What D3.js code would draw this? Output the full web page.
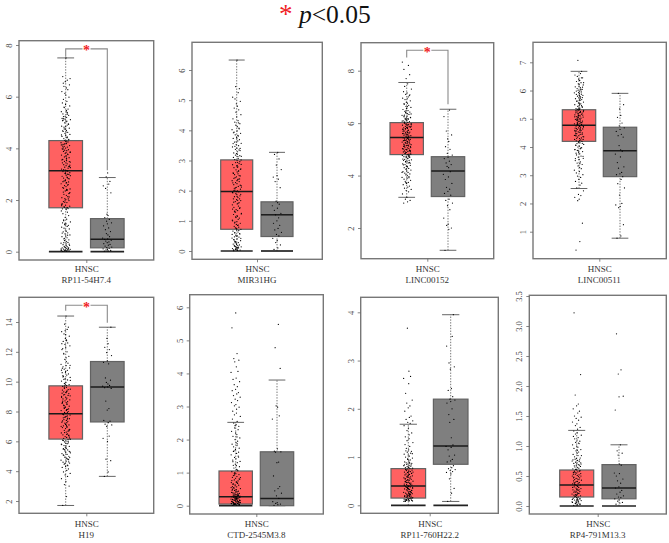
<!DOCTYPE html>
<html><head><meta charset="utf-8">
<script src="https://cdn.jsdelivr.net/npm/d3@7"></script>
<style>html,body{margin:0;padding:0;background:#fff}svg{display:block}</style>
</head><body><svg id="c" width="669" height="543"></svg>
<script>
const cancer = "HNSC";
const genes = ["RP11-54H7.4","MIR31HG","LINC00152","LINC00511","H19","CTD-2545M3.8","RP11-760H22.2","RP4-791M13.3"];
// [low whisker, q1, median, q3, high whisker]
const tumorStats = [[0,1.7,3.13,4.3,7.5],[0,.72,1.97,3.02,6.33],[3.17,4.8,5.45,6.02,7.55],[2.53,4.2,4.77,5.32,6.68],[1.7,6.15,7.85,9.72,14.4],[0,.05,.27,1.05,2.52],[0,.15,.4,.76,1.68],[0,.15,.35,.6,1.26]];
const normalStats = [[0,.15,.48,1.28,2.87],[0,.48,1.2,1.63,3.27],[1.15,3.2,4.17,4.72,6.53],[.77,2.95,3.87,4.7,5.9],[3.65,7.3,9.65,11.35,13.65],[0,0,.22,1.63,3.8],[.08,.85,1.23,2.2,3.95],[0,.12,.3,.69,1.02]];
const yTicks = [[0,2,4,6,8],[0,1,2,3,4,5,6],[2,4,6,8],[1,2,3,4,5,6,7],[2,4,6,8,10,12,14],[0,1,2,3,4,5,6],[0,1,2,3,4],[0,.5,1,1.5,2,2.5,3,3.5]];
const tickFormats = [".0f",".0f",".0f",".0f",".0f",".0f",".0f",".1f"];
// [bracket level, left end, right end]; null where no star is shown
const brackets = [[7.85,7.55,3.15],null,[8.78,8.5,6.72],null,[15.12,14.75,13.95],null,null,null];
const zeroBars = [[1,1],[1,1],[0,0],[0,0],[0,0],[1,0],[1,1],[1,1]];

const t1 = [.01,.02,.03,.04,.05,.06,.07,.08,.09,.1,.12,.13,.15,.17,.19,.21,.24,.27,.3,.33,.36,.39,.43,.46,.5,.54,.58,.61,.65,.69,.73,.77,.8,.84,.88,.91,.95,.98,1.02,1.05,1.08,1.12,1.15,1.2,1.26,1.33,1.4,1.47,1.53,1.58,1.63,1.67,1.72,1.76,1.8,1.85,1.9,1.94,1.98,2.02,2.05,2.09,2.13,2.18,2.22,2.27,2.31,2.35,2.39,2.43,2.48,2.52,2.56,2.6,2.63,2.67,2.7,2.74,2.78,2.82,2.85,2.89,2.92,2.96,3,3.03,3.06,3.1,3.13,3.16,3.2,3.23,3.27,3.3,3.33,3.37,3.4,3.44,3.47,3.5,3.54,3.57,3.6,3.64,3.67,3.7,3.74,3.78,3.81,3.84,3.88,3.91,3.95,3.98,4.01,4.05,4.08,4.11,4.15,4.18,4.22,4.25,4.28,4.31,4.35,4.38,4.42,4.46,4.5,4.54,4.58,4.62,4.66,4.7,4.74,4.78,4.82,4.86,4.9,4.95,4.99,5.03,5.07,5.11,5.15,5.2,5.24,5.28,5.33,5.37,5.42,5.47,5.52,5.58,5.64,5.7,5.76,5.82,5.9,5.98,6.06,6.13,6.2,6.27,6.34,6.4,6.46,6.52,6.58,6.64,6.7,6.78,7.5];
const t1b = [4.17,2.83,.11,3.52,4.93,1.74,3.08,.29,2.46,4.41,5.16,3.71,.64,1.97,3.35,2.71,5.05,4.27,1.84,.08,3.93,2.25,4.63,3.18,5.31,1.66,2.94,.44,3.62,4.09,5.45,2.12,.18,3.44,4.52,2.58,1.04,3.86,5.23,2.37,4.33,.72,3.02,1.71,4.75,3.29,5.09,2.66,.06,3.76,4.2,1.91,2.99,.35,5.38,3.55,4.84,2.29,1.1,3.12,4.02,.23,2.75,3.49,5.6,1.78,4.44,2.04,.52,3.83,4.68,3.25,1.23,2.41,5.13,.15,3.97,2.87,4.13,1.69];
const n1 = [.02,.03,.05,.07,.09,.11,.13,.16,.18,.22,.25,.28,.31,.35,.38,.41,.44,.48,.5,.53,.58,.65,.7,.78,.85,.92,1,1.08,1.12,1.18,1.25,1.32,1.4,1.45,2.28,2.45,2.55,2.62,2.72,2.9,3.05];
const t2 = [.01,.02,.03,.05,.06,.08,.1,.12,.14,.16,.18,.2,.23,.26,.28,.31,.34,.37,.4,.43,.46,.5,.53,.56,.6,.63,.66,.7,.72,.76,.79,.82,.85,.88,.92,.96,1,1.05,1.09,1.13,1.17,1.21,1.25,1.3,1.34,1.37,1.41,1.45,1.49,1.53,1.56,1.6,1.64,1.67,1.7,1.73,1.77,1.8,1.83,1.87,1.9,1.93,1.96,1.99,2.02,2.05,2.08,2.11,2.14,2.17,2.2,2.23,2.27,2.3,2.33,2.36,2.39,2.43,2.46,2.49,2.53,2.56,2.59,2.62,2.66,2.69,2.72,2.76,2.79,2.82,2.86,2.9,2.93,2.96,3,3.03,3.07,3.1,3.14,3.18,3.21,3.25,3.29,3.33,3.37,3.41,3.45,3.49,3.53,3.57,3.61,3.65,3.69,3.73,3.77,3.81,3.85,3.9,3.94,3.98,4.02,4.07,4.12,4.17,4.22,4.27,4.32,4.38,4.45,4.52,4.6,4.68,4.74,4.8,4.88,4.96,5.04,5.1,5.25,5.38,5.45,6.33];
const t2b = [.04,2.12,.33,1.68,3.62,.58,2.41,.13,1.02,2.84,3.35,.77,1.88,.22,2.57,3.13,.47,1.44,3.74,.09,2.26,.68,1.15,3.47,2.71,.19,1.97,.86,3.02,.38,2.33,1.29,4.05,.55,2.94,1.73,.27,3.23,2.18,.93,1.58,3.56,.07,2.65,1.11,.42,2.01,3.83,.74,1.39,2.5,.15,3.16,1.81,.61,2.38,3.92,1.23,.3,2.78,1.62,.11,3.4,2.09,.97,1.94,4.25,.5,2.87,1.32];
const n2 = [.05,.1,.2,.28,.35,.42,.5,.55,.62,.7,.75,.85,.92,1,1.1,1.2,1.25,1.35,1.42,1.5,1.55,1.6,1.65,2.1,2.3,2.38,2.45,2.5,2.7,2.85,3.05,3.2,3.27];
const t3 = [2.95,3,3.05,3.1,3.17,3.3,3.38,3.43,3.47,3.52,3.56,3.6,3.65,3.7,3.74,3.78,3.82,3.86,3.9,3.93,3.96,4,4.03,4.06,4.09,4.12,4.15,4.18,4.21,4.24,4.27,4.3,4.33,4.36,4.39,4.42,4.45,4.48,4.5,4.52,4.55,4.58,4.6,4.62,4.65,4.68,4.7,4.72,4.74,4.77,4.8,4.82,4.84,4.86,4.88,4.9,4.92,4.94,4.96,4.98,5,5.02,5.04,5.06,5.08,5.1,5.12,5.14,5.16,5.18,5.2,5.22,5.24,5.26,5.28,5.3,5.32,5.34,5.36,5.38,5.4,5.42,5.44,5.46,5.48,5.5,5.52,5.54,5.56,5.58,5.6,5.62,5.64,5.66,5.68,5.7,5.72,5.74,5.76,5.78,5.8,5.82,5.84,5.86,5.88,5.9,5.92,5.94,5.96,5.98,6,6.03,6.06,6.09,6.12,6.15,6.18,6.21,6.24,6.27,6.3,6.33,6.36,6.39,6.42,6.45,6.48,6.52,6.56,6.6,6.64,6.68,6.72,6.76,6.8,6.85,6.9,6.95,7,7.05,7.1,7.15,7.2,7.3,7.4,7.5,7.7,7.85,8.05,8.2,8.33];
const t3b = [5.41,4.77,6.13,5.07,5.83,4.41,5.63,6.02,4.95,5.29,6.47,4.63,5.51,5.93,4.84,6.22,5.17,4.26,5.73,6.35,5.01,5.47,4.54,5.87,6.08,5.25,4.71,5.59,6.55,4.92,5.35,6.17,5.69,4.35,5.13,5.97,4.81,6.27,5.43,4.99,5.77,4.58,6.41,5.21,5.55,6.05,4.67,5.33,5.89,4.89,6.63,5.11,5.65,4.47,5.79,6.11,5.03,5.37,4.73,5.95,6.31,5.45,4.97,5.61,6.2,4.79,5.27,5.85,6.74,5.15,4.12,3.92,6.93,3.73,7.08];
const n3 = [1.15,1.95,2,2.1,2.15,2.38,2.7,2.85,2.95,3.05,3.1,3.25,3.32,3.4,3.48,3.55,3.7,3.85,3.95,4.05,4.15,4.3,4.35,4.42,4.48,4.55,4.65,4.7,4.78,4.85,5,5.1,5.3,5.4,5.55,5.7,6.25,6.5];
const t4 = [.35,.65,1.3,2.1,2.15,2.22,2.28,2.32,2.45,2.55,2.65,2.72,2.78,2.85,2.92,2.97,3.02,3.08,3.13,3.18,3.23,3.28,3.33,3.38,3.43,3.47,3.52,3.56,3.6,3.64,3.68,3.72,3.76,3.8,3.84,3.88,3.91,3.94,3.97,4,4.03,4.06,4.09,4.12,4.15,4.17,4.2,4.22,4.25,4.27,4.3,4.32,4.35,4.37,4.4,4.42,4.45,4.47,4.5,4.52,4.54,4.56,4.58,4.6,4.62,4.64,4.66,4.68,4.7,4.72,4.74,4.76,4.78,4.8,4.82,4.84,4.86,4.88,4.9,4.92,4.94,4.96,4.98,5,5.02,5.04,5.06,5.08,5.1,5.12,5.14,5.16,5.18,5.2,5.22,5.24,5.26,5.28,5.3,5.32,5.34,5.36,5.38,5.41,5.44,5.47,5.5,5.53,5.56,5.59,5.62,5.65,5.68,5.71,5.74,5.77,5.8,5.83,5.86,5.89,5.92,5.95,5.98,6.01,6.04,6.07,6.1,6.13,6.16,6.2,6.24,6.28,6.32,6.36,6.4,6.45,6.5,6.55,6.6,6.68,7.07];
const t4b = [4.73,5.21,4.36,5.63,4.91,3.86,5.43,4.57,6.05,5.07,4.23,5.87,4.81,3.67,5.29,4.49,5.71,4.99,4.13,6.22,5.35,4.67,3.98,5.55,4.85,5.13,4.31,5.93,4.61,5.25,3.78,6.36,4.95,5.47,4.41,5.79,4.77,5.03,4.19,6.12,5.31,4.53,3.59,5.67,4.87,5.17,4.27,5.98,4.65,5.39,3.91,6.45,5.09,4.45,5.83,4.79,5.23,4.07,6.28,4.97,5.51,4.39,3.41,5.75,4.83,5.33,4.59,6.02,5.11,4.71];
const n4 = [.77,.85,1.25,1.85,1.9,1.95,2,2.3,2.55,2.7,2.85,2.95,3.02,3.05,3.1,3.25,3.3,3.45,3.65,3.75,3.85,3.9,4.05,4.35,4.4,4.45,4.55,4.62,4.68,4.75,4.85,5.05,5.12,5.35,5.5,5.9];
const t5 = [1.7,2.3,3,3.1,3.3,3.5,3.65,3.75,3.85,3.95,4.05,4.15,4.25,4.32,4.4,4.47,4.54,4.6,4.67,4.74,4.8,4.87,4.94,5,5.06,5.12,5.18,5.24,5.3,5.36,5.42,5.48,5.54,5.6,5.66,5.72,5.78,5.84,5.9,5.96,6.02,6.08,6.14,6.2,6.26,6.32,6.38,6.44,6.5,6.56,6.62,6.68,6.74,6.8,6.86,6.92,6.98,7.04,7.1,7.16,7.22,7.28,7.34,7.4,7.46,7.52,7.58,7.64,7.7,7.76,7.82,7.88,7.94,8,8.06,8.12,8.18,8.24,8.3,8.36,8.42,8.48,8.54,8.6,8.66,8.72,8.78,8.84,8.9,8.96,9.02,9.08,9.14,9.2,9.26,9.32,9.38,9.44,9.5,9.56,9.62,9.68,9.74,9.8,9.88,9.96,10.04,10.12,10.2,10.28,10.36,10.44,10.52,10.6,10.68,10.76,10.84,10.92,11,11.08,11.16,11.24,11.35,11.5,11.7,11.85,12,12.15,12.3,12.4,12.5,12.6,12.7,12.8,12.9,13.05,13.2,13.35,13.5,13.65,13.85,14.4];
const t5b = [7.37,5.23,9.11,6.47,8.29,4.63,10.41,7.93,5.81,8.83,6.11,9.59,4.91,7.13,10.9,8.51,5.51,6.77,9.29,7.61,12.55,4.37,8.07,10.15,6.29,5.09,9.83,7.49,11.1,8.69,5.69,6.59,9.47,7.01,12.75,4.77,8.39,10.63,5.33,7.79,6.95,9.23,11.6,8.15,4.52,6.17,10.32,7.25,13.15,8.95,5.99,9.71,6.41,7.67,11.9,4.83,8.61,10.08,5.45,7.07,12.22,9.35,6.71,8.21,5.87,10.77,7.55,13.42,9.05,6.05];
const n5 = [3.65,3.95,4.7,4.8,6,6.2,6.35,7,7.1,7.15,7.25,7.35,7.4,8.1,8.2,8.7,9.55,9.6,9.65,9.7,9.75,9.85,9.95,10.1,10.25,11.2,11.3,11.4,11.75,11.95,12.15,12.3,12.55,12.9,13.65];
const t6 = [.01,.02,.03,.04,.05,.06,.07,.08,.09,.1,.11,.12,.13,.14,.15,.16,.17,.18,.19,.2,.21,.22,.23,.24,.25,.26,.27,.28,.29,.3,.31,.32,.33,.35,.37,.38,.4,.42,.44,.46,.48,.5,.52,.55,.57,.6,.62,.65,.68,.7,.72,.75,.78,.8,.83,.86,.88,.91,.94,.97,1,1.03,1.06,1.1,1.14,1.18,1.22,1.26,1.3,1.34,1.38,1.42,1.46,1.5,1.54,1.58,1.62,1.66,1.7,1.74,1.78,1.82,1.86,1.9,1.95,2,2.05,2.1,2.15,2.2,2.25,2.3,2.35,2.4,2.45,2.5,2.55,2.62,2.7,2.75,2.8,2.86,2.92,2.98,3.02,3.06,3.12,3.18,3.22,3.28,3.33,3.38,3.42,3.48,3.52,3.6,3.66,3.75,3.82,3.86,4.03,4.06,4.2,4.35,4.4,4.45,4.6,5.38,5.83];
const t6b = [.16,.04,.36,.09,.71,.24,.02,.53,.13,1.08,.31,.06,.44,.19,.85,.03,.27,.63,.11,1.33,.21,.07,.49,.34,.98,.15,.05,.58,.26,1.64,.08,.41,.18,.76,.12,1.21,.29,.03,.66,.23,1.87,.1,.39,.14,.93,.05,.55,.22,1.47,.33,.17,.81,.06,2.08,.47,.2,.68,2.42,.25,.09];
const n6 = [.01,.03,.05,.07,.09,.12,.22,.3,.38,.45,.52,.58,.9,1.3,1.32,1.62,1.63,1.65,1.72,2.62,2.72,2.98,3.02,4.15,4.78,5.48];
const t7 = [.08,.09,.1,.11,.12,.13,.14,.15,.16,.17,.18,.19,.2,.21,.22,.23,.24,.25,.26,.27,.28,.29,.3,.31,.32,.33,.34,.35,.36,.37,.38,.39,.4,.41,.42,.43,.44,.45,.46,.47,.48,.49,.5,.51,.52,.53,.54,.55,.56,.57,.58,.59,.6,.61,.62,.63,.64,.65,.66,.67,.68,.69,.7,.71,.72,.73,.74,.75,.76,.77,.78,.79,.8,.81,.82,.83,.84,.85,.86,.87,.88,.89,.9,.92,.94,.96,.98,1,1.02,1.04,1.06,1.08,1.1,1.12,1.15,1.18,1.22,1.26,1.3,1.34,1.38,1.42,1.46,1.5,1.55,1.6,1.65,1.7,1.72,1.75,1.78,1.82,1.85,1.95,2.02,2.06,2.12,2.18,2.32,2.52,2.63,2.67,2.78,3.67];
const t7b = [.27,.12,.46,.18,.63,.09,.35,.22,.74,.14,.52,.31,.1,.41,.87,.16,.58,.25,.11,.69,.37,.2,.95,.13,.49,.29,.08,.79,.43,.17,1.07,.33,.55,.23,.12,.66,.39,.19,.84,.28,.1,.47,.15,1.13,.6,.24,.36,.09,.71,.21];
const n7 = [.08,.25,.35,.55,.65,.68,.7,.72,.74,.76,.78,.82,.9,.92,.95,1.02,1.04,1.15,1.2,1.22,1.25,1.4,1.72,1.78,1.88,2,2.12,2.15,2.18,2.2,2.25,2.38,2.42,2.82,2.87,2.95,3.3,3.5,3.95];
const t8 = [.01,.02,.03,.04,.05,.06,.07,.08,.09,.1,.11,.12,.13,.14,.15,.16,.17,.18,.19,.2,.21,.22,.23,.24,.25,.26,.27,.28,.29,.3,.31,.32,.33,.34,.35,.36,.37,.38,.39,.4,.41,.42,.43,.44,.45,.46,.47,.48,.49,.5,.51,.52,.53,.54,.55,.56,.57,.58,.59,.6,.61,.62,.63,.64,.65,.66,.67,.68,.69,.7,.71,.72,.73,.74,.75,.76,.77,.78,.79,.8,.82,.84,.86,.88,.9,.92,.94,.96,.98,1,1.02,1.04,1.06,1.08,1.1,1.12,1.14,1.16,1.18,1.2,1.22,1.25,1.28,1.31,1.34,1.37,1.4,1.43,1.46,1.48,1.5,1.55,1.58,1.62,1.67,1.7,1.85,2.19,3.22];
const t8b = [.28,.07,.44,.13,.61,.03,.35,.21,.77,.1,.5,.17,.05,.39,.93,.25,.12,.56,.31,.08,.68,.19,.02,.47,.84,.15,.33,.06,.58,.23,1.05,.11,.41,.27,.04,.72,.18,.53,.09,.37];
const n8 = [.03,.05,.06,.08,.1,.12,.14,.15,.17,.2,.23,.26,.3,.32,.38,.42,.45,.5,.54,.55,.68,.7,.85,.88,.92,1.02,1.6,1.82,1.83,2.2,2.27,2.87];
const tumorPoints = [t1.concat(t1b),t2.concat(t2b),t3.concat(t3b),t4.concat(t4b),t5.concat(t5b),t6.concat(t6b),t7.concat(t7b),t8.concat(t8b)];
const normalPoints = [n1,n2,n3,n4,n5,n6,n7,n8];
// sideways scatter of the dots, in units of the scatter half-width
const jitter = [-.62,.18,.71,-.27,.04,-.88,.39,-.11,.93,-.46,.22,.57,-.73,-.02,.34,-.31,.81,-.55,.09,-.97,.47,.13,-.19,.66,-.39,.28,-.78,.01,.88,-.15,.42,-.52,.16,-.07,.75,-.35,-.84,.31,.55,-.23,.07,-.66,.98,-.42,.2,-.12,.62,-.58,.36,-.91,.11,.49,-.29,.84,-.03,-.69,.25,-.47,.68,.03,-.17,-.8,.44,.14,-.37,.78,-.5,-.09,.33,.91,-.61,.06,-.24,.52,-.95,.19,.6,-.33,-.05,.73,-.44,.27,-.75,.1,.4,-.14,.86,-.57,.24,-.01,-.86,.5,-.21,.65,.08,-.41,.3,-.68,.96,-.26,.15];

// page layout of each panel: frame, y calibration, column centres
const layout = [
 {l:19,r:153.7,t:40.7,b:260,vA:0,yA:251.7,vB:8,yB:45,c1:65.7,c2:107.3,hw:16.8,tx:86.3,top:269,row2:279.5},
 {l:192,r:322.3,t:42.3,b:259.3,vA:0,yA:251,vB:6,yB:70,c1:236.7,c2:277,hw:16,tx:257,top:269,row2:279.5},
 {l:361,r:493.7,t:42.7,b:258.7,vA:2,yA:228,vB:8,yB:70.7,c1:406.7,c2:448,hw:16.7,tx:427.3,top:269,row2:279.5},
 {l:533,r:666.3,t:42.3,b:258.7,vA:1,yA:231.7,vB:7,yB:62.3,c1:579,c2:620,hw:16.7,tx:599.3,top:269,row2:279.5},
 {l:19,r:153.7,t:297.3,b:513.3,vA:2,yA:501,vB:14,yB:322,c1:65.7,c2:107.3,hw:16.8,tx:86.3,top:524,row2:535},
 {l:189.7,r:323.3,t:294.7,b:514,vA:0,yA:505.7,vB:6,yB:307.3,c1:235.7,c2:277,hw:16.7,tx:256.3,top:524,row2:535},
 {l:360.7,r:498.3,t:297.3,b:513.3,vA:0,yA:505.3,vB:4,yB:312.3,c1:408.3,c2:450.7,hw:17.3,tx:429.7,top:524,row2:535},
 {l:529.3,r:666.3,t:295.3,b:514,vA:0,yA:506,vB:3.5,yB:296,c1:576.7,c2:619,hw:17,tx:597.7,top:524,row2:535}
];
const serif = "'Liberation Serif',serif";
const svg = d3.select("#c");

const title = svg.append("text").attr("x",279).attr("y",22.8).attr("font-family",serif).attr("font-size",25.5).attr("fill","#111");
title.append("tspan").text("*").attr("fill","#f01c24").attr("font-size",27);
title.append("tspan").text(" ");
title.append("tspan").text("p").attr("font-style","italic");
title.append("tspan").text("<0.05");

genes.forEach((g,i)=>{
  const L = layout[i];
  const y = d3.scaleLinear().domain([L.vA,L.vB]).range([L.yA,L.yB]);
  const p = svg.append("g");
  const col = (c,stats,pts,fill,zero)=>{
    const [lo,q1,med,q3,hi] = stats;
    const capW = L.hw*.5;
    const wh = (a,b)=>p.append("line").attr("x1",c).attr("x2",c).attr("y1",y(a)).attr("y2",y(b)).attr("stroke","#777").attr("stroke-width",1).attr("stroke-dasharray","1.4,1.4");
    wh(q3,hi); wh(lo,q1);
    [lo,hi].forEach(v=>{ if(!(v===0&&zero)) p.append("line").attr("x1",c-capW).attr("x2",c+capW).attr("y1",y(v)).attr("y2",y(v)).attr("stroke","#555").attr("stroke-width",.9); });
    p.append("rect").attr("x",c-L.hw).attr("width",L.hw*2).attr("y",y(q3)).attr("height",y(q1)-y(q3)).attr("fill",fill).attr("stroke","#626262").attr("stroke-width",1.2);
    p.append("line").attr("x1",c-L.hw).attr("x2",c+L.hw).attr("y1",y(med)).attr("y2",y(med)).attr("stroke","#1a1a1a").attr("stroke-width",1.5);
    if(zero) p.append("line").attr("x1",c-L.hw).attr("x2",c+L.hw).attr("y1",y(0)).attr("y2",y(0)).attr("stroke","#222").attr("stroke-width",1.7);
    const jx = d3.scaleLinear().domain([-1,1]).range([c-4.8,c+4.8]);
    p.append("g").selectAll("circle").data(pts).join("circle")
      .attr("cx",(d,k)=>jx(jitter[k%jitter.length])).attr("cy",d=>y(d)).attr("r",.62).attr("fill","#000");
  };
  col(L.c1,tumorStats[i],tumorPoints[i],"#ff6161",zeroBars[i][0]);
  col(L.c2,normalStats[i],normalPoints[i],"#7f7f7f",zeroBars[i][1]);

  const B = brackets[i];
  if(B){
    p.append("path").attr("fill","none").attr("stroke","#8a8a8a").attr("stroke-width",1.1)
      .attr("d",d3.line()([[L.c1,y(B[1])],[L.c1,y(B[0])],[L.c2,y(B[0])],[L.c2,y(B[2])]]));
    const m=(L.c1+L.c2)/2;
    p.append("rect").attr("x",m-4).attr("width",8).attr("y",y(B[0])-3).attr("height",6).attr("fill","#fff");
    p.append("text").attr("x",m).attr("y",y(B[0])+6.5).attr("text-anchor","middle").attr("font-family",serif).attr("font-weight","bold").attr("font-size",14).attr("fill","#f01c24").text("*");
  }

  p.append("rect").attr("x",L.l).attr("y",L.t).attr("width",L.r-L.l).attr("height",L.b-L.t).attr("fill","none").attr("stroke","#777").attr("stroke-width",1.4);

  const yAxis = d3.axisLeft(y).tickValues(yTicks[i]).tickFormat(d3.format(tickFormats[i])).tickSize(3).tickPadding(2);
  const ax = p.append("g").attr("transform",`translate(${L.l},0)`).call(yAxis);
  ax.select(".domain").remove();
  ax.selectAll(".tick line").attr("stroke","#666").attr("stroke-width",.8);
  ax.selectAll(".tick text").attr("font-family",serif).attr("font-size",8.5).attr("fill","#444")
    .attr("text-anchor","middle").attr("dy",0).attr("x",0)
    .attr("transform","translate(-9,0) rotate(-90)").attr("dominant-baseline","middle");

  const x = d3.scalePoint().domain([cancer]).range([L.tx,L.tx]);
  const xAxis = d3.axisBottom(x).tickSize(3).tickPadding(2);
  const bx = p.append("g").attr("transform",`translate(0,${L.b})`).call(xAxis);
  bx.select(".domain").remove();
  bx.selectAll(".tick line").attr("stroke","#666").attr("stroke-width",.8);
  bx.selectAll(".tick text").attr("font-family",serif).attr("font-size",9).attr("fill","#333").attr("dy",0).attr("y",L.top+3-L.b);
  p.append("text").attr("x",L.tx).attr("y",L.row2+3).attr("text-anchor","middle").attr("font-family",serif).attr("font-size",9).attr("fill","#333").text(g);
});
</script></body></html>
